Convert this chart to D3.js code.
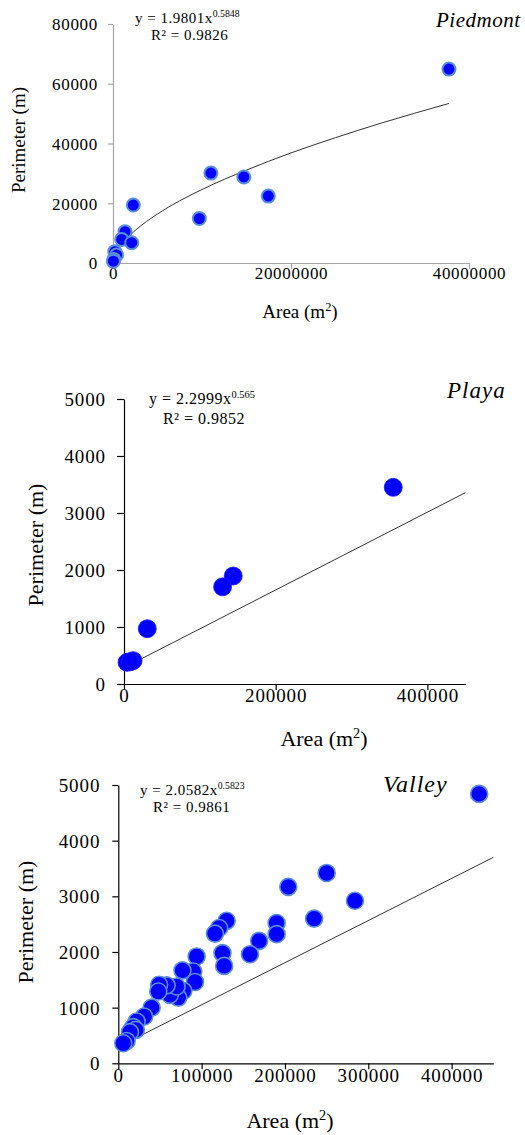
<!DOCTYPE html>
<html><head><meta charset="utf-8">
<script src="https://cdn.jsdelivr.net/npm/d3@7"></script>
<style>body{margin:0;background:#fff}svg{display:block}svg text{font-family:'Liberation Serif'}</style>
</head><body>
<svg id="c" width="525" height="1135"></svg>
<script>
// ---------- data ----------
const panelNames = ["Piedmont", "Playa", "Valley"];
const equations = ["y = 1.9801x", "y = 2.2999x", "y = 2.0582x"];
const exponents = ["0.5848", "0.565", "0.5823"];
const r2Labels = ["R² = 0.9826", "R² = 0.9852", "R² = 0.9861"];

const piedmontArea = [37750000, 11000000, 14700000, 17450000, 9700000, 2280000, 1350000, 980000, 2100000, 200000, 400000, 100000, 40000];
const piedmontPerim = [64900, 30100, 28800, 22400, 14900, 19400, 10500, 7900, 6800, 3800, 2700, 1200, 600];
const piedmontTrendArea = [30000, 100000, 1000000, 2500000, 5000000, 10000000, 15000000, 20000000, 25000000, 30000000, 37750000];
const piedmontTrendPerim = [800, 1660, 6390, 10900, 16400, 24600, 31100, 36850, 41950, 46700, 53400];
const piedmontXTicks = [0, 20000000, 40000000];
const piedmontYTicks = [0, 20000, 40000, 60000, 80000];

const playaArea = [355000, 144000, 130000, 30700, 12000, 4000, 8000];
const playaPerim = [3450, 1895, 1705, 970, 410, 380, 390];
const playaTrendArea = [7000, 450000];
const playaTrendPerim = [333, 3356];
const playaXTicks = [0, 200000, 400000];
const playaYTicks = [0, 1000, 2000, 3000, 4000, 5000];

const valleyArea = [433000, 250000, 204000, 284000, 235000, 190000, 190000, 169000, 158000, 130000, 121000, 116000, 125000, 127000, 94000, 90000, 92000, 77000, 78000, 72000, 62000, 70000, 58000, 49000, 48000, 40000, 31000, 22000, 18000, 21000, 14000, 10000, 6000];
const valleyPerim = [4840, 3420, 3170, 2920, 2600, 2520, 2320, 2200, 1960, 2560, 2430, 2330, 1980, 1750, 1920, 1650, 1460, 1670, 1300, 1180, 1230, 1380, 1400, 1410, 1290, 1000, 840, 750, 650, 600, 560, 400, 360];
const valleyTrendArea = [6800, 450000];
const valleyTrendPerim = [346, 3700];
const valleyXTicks = [0, 100000, 200000, 300000, 400000];
const valleyYTicks = [0, 1000, 2000, 3000, 4000, 5000];

// ---------- drawing ----------
const svg = d3.select("#c");
const FONT = "'Liberation Serif'";

function drawPanel(o) {
  const g = svg.append("g");
  const x = d3.scaleLinear().domain(o.xDomain).range([o.left, o.right]);
  const y = d3.scaleLinear().domain(o.yDomain).range([o.bottom, o.top]);

  const xa = g.append("g").attr("transform", `translate(0,${o.bottom})`)
    .call(d3.axisBottom(x).tickValues(o.xTicks).tickSize(6).tickSizeOuter(0).tickFormat(d3.format("d")));
  const ya = g.append("g").attr("transform", `translate(${o.left},0)`)
    .call(d3.axisLeft(y).tickValues(o.yTicks).tickSize(o.yTickLen).tickSizeOuter(0).tickFormat(d3.format("d")));
  [xa, ya].forEach(a => {
    a.attr("font-family", null).style("font-family", FONT);
    a.select(".domain").attr("stroke", o.axisColor).attr("stroke-width", o.axisWidth);
    a.selectAll(".tick line").attr("stroke", o.axisColor).attr("stroke-width", o.axisWidth);
    a.selectAll("text").style("font-family", FONT).attr("font-size", o.tickFont)
      .attr("letter-spacing", o.tickSpacing).attr("fill", "#000");
  });
  xa.selectAll("text").attr("dy", null).attr("y", o.xLabelDy);
  ya.selectAll("text").attr("dy", "0.35em").attr("x", -o.yLabelGap);

  // trend line
  const tp = o.trendX.map((v, i) => [x(v), y(o.trendY[i])]);
  g.append("path").attr("d", d3.line().curve(d3.curveMonotoneX)(tp))
    .attr("fill", "none").attr("stroke", "#333").attr("stroke-width", 1);

  // points
  g.append("g").selectAll("circle").data(o.px.map((v, i) => [v, o.py[i]])).join("circle")
    .attr("cx", d => x(d[0])).attr("cy", d => y(d[1])).attr("r", o.r)
    .attr("fill", "#0000ff").attr("stroke", o.stroke).attr("stroke-width", o.strokeW);

  // y title
  g.append("text").attr("transform", `translate(${o.yTitleX},${o.yTitleY}) rotate(-90)`)
    .attr("text-anchor", "middle").style("font-family", FONT).attr("font-size", o.titleFont)
    .attr("dy", "0.35em").text("Perimeter (m)");
  // x title
  const xt = g.append("text").attr("x", o.xTitleX).attr("y", o.xTitleY).attr("text-anchor", "middle")
    .style("font-family", FONT).attr("font-size", o.titleFont);
  xt.append("tspan").text("Area (m");
  xt.append("tspan").attr("dy", -o.titleFont * 0.35).attr("font-size", o.titleFont * 0.65).text("2");
  xt.append("tspan").attr("dy", o.titleFont * 0.35).text(")");

  // equation
  const eq = g.append("text").attr("x", o.eqX).attr("y", o.eqY).style("font-family", FONT)
    .attr("font-size", o.eqFont).attr("letter-spacing", 0.5);
  eq.append("tspan").text(equations[o.idx]);
  eq.append("tspan").attr("dy", -o.eqFont * 0.4).attr("font-size", o.eqFont * 0.65)
    .attr("letter-spacing", 0).text(exponents[o.idx]);
  g.append("text").attr("x", o.r2X).attr("y", o.r2Y).style("font-family", FONT)
    .attr("font-size", o.eqFont).attr("letter-spacing", 0.5).text(r2Labels[o.idx]);

  // panel name
  g.append("text").attr("x", o.nameX).attr("y", o.nameY).style("font-family", FONT)
    .attr("font-style", "italic").attr("font-size", o.nameFont).attr("letter-spacing", o.nameSpacing)
    .text(panelNames[o.idx]);
}

drawPanel({
  idx: 0, left: 113, right: 469, top: 24, bottom: 263,
  xDomain: [0, 40000000], yDomain: [0, 80000], xTicks: piedmontXTicks, yTicks: piedmontYTicks,
  axisColor: "#a6a6a6", axisWidth: 1.2, yTickLen: 5, tickFont: 17, tickSpacing: 0.7,
  xLabelDy: 16, yLabelGap: 15,
  trendX: piedmontTrendArea, trendY: piedmontTrendPerim,
  px: piedmontArea, py: piedmontPerim, r: 6.5, stroke: "#5b8edb", strokeW: 2,
  titleFont: 19, yTitleX: 18, yTitleY: 140, xTitleX: 300, xTitleY: 318,
  eqFont: 15, eqX: 135, eqY: 23, r2X: 151, r2Y: 40,
  nameX: 436, nameY: 27, nameFont: 21, nameSpacing: 0.5
});

drawPanel({
  idx: 1, left: 124, right: 465.3, top: 399, bottom: 684,
  xDomain: [0, 450000], yDomain: [0, 5000], xTicks: playaXTicks, yTicks: playaYTicks,
  axisColor: "#000", axisWidth: 1.2, yTickLen: 7, tickFont: 19, tickSpacing: 0.9,
  xLabelDy: 18, yLabelGap: 18,
  trendX: playaTrendArea, trendY: playaTrendPerim,
  px: playaArea, py: playaPerim, r: 9, stroke: "#1a1aff", strokeW: 0.8,
  titleFont: 22, yTitleX: 35, yTitleY: 545, xTitleX: 324, xTitleY: 746,
  eqFont: 16, eqX: 149, eqY: 404, r2X: 163, r2Y: 424,
  nameX: 447, nameY: 398, nameFont: 23, nameSpacing: 1
});

drawPanel({
  idx: 2, left: 118.3, right: 493.3, top: 785, bottom: 1063.3,
  xDomain: [0, 450000], yDomain: [0, 5000], xTicks: valleyXTicks, yTicks: valleyYTicks,
  axisColor: "#000", axisWidth: 1.2, yTickLen: 6, tickFont: 19, tickSpacing: 0.9,
  xLabelDy: 19, yLabelGap: 18,
  trendX: valleyTrendArea, trendY: valleyTrendPerim,
  px: valleyArea, py: valleyPerim, r: 8.5, stroke: "#5b8edb", strokeW: 1.6,
  titleFont: 22, yTitleX: 25, yTitleY: 922, xTitleX: 290, xTitleY: 1128,
  eqFont: 15, eqX: 140, eqY: 795, r2X: 153, r2Y: 812,
  nameX: 383, nameY: 792, nameFont: 24, nameSpacing: 1
});
</script>
</body></html>
